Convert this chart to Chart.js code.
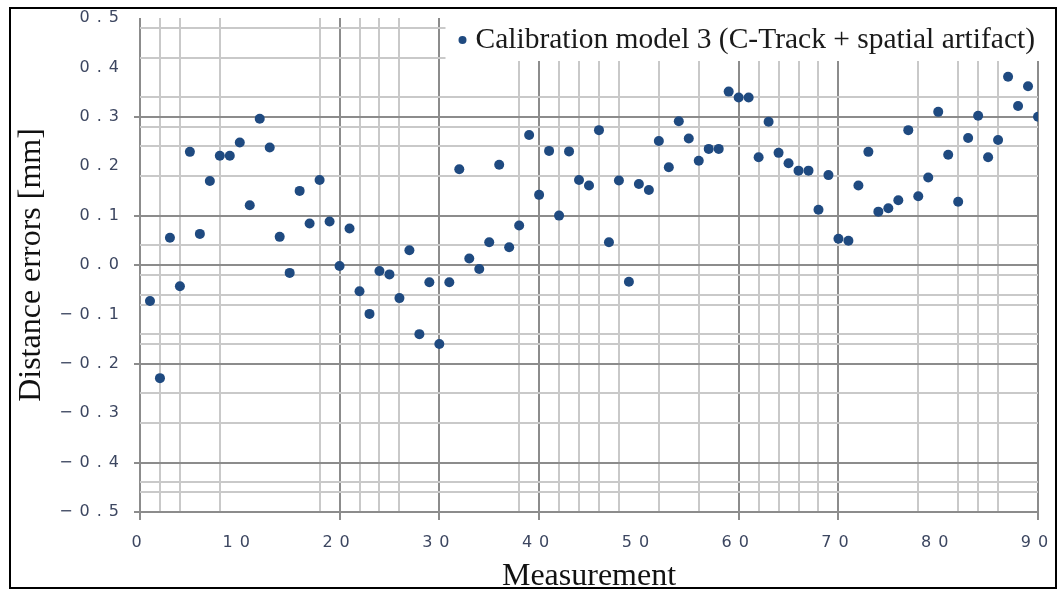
<!DOCTYPE html>
<html>
<head>
<meta charset="utf-8">
<script src="https://cdn.jsdelivr.net/npm/chart.js@4.4.1/dist/chart.umd.min.js"></script>
<style>
  html, body { margin: 0; padding: 0; background: #fff; overflow: hidden; }
  #wrap { width: 1057px; height: 589px; }
</style>
</head>
<body>
<div id="wrap"><canvas id="chart"></canvas></div>
<script>
// measurement number (x) and distance error in mm (y)
var measurements = [1, 2, 3, 4, 5, 6, 7, 8, 9, 10,
    11, 12, 13, 14, 15, 16, 17, 18, 19, 20,
    21, 22, 23, 24, 25, 26, 27, 28, 29, 30,
    31, 32, 33, 34, 35, 36, 37, 38, 39, 40,
    41, 42, 43, 44, 45, 46, 47, 48, 49, 50,
    51, 52, 53, 54, 55, 56, 57, 58, 59, 60,
    61, 62, 63, 64, 65, 66, 67, 68, 69, 70,
    71, 72, 73, 74, 75, 76, 77, 78, 79, 80,
    81, 82, 83, 84, 85, 86, 87, 88, 89, 90];
var distanceErrors = [-0.073, -0.229, 0.055, -0.043, 0.229, 0.063, 0.170, 0.221, 0.221, 0.248,
    0.121, 0.296, 0.238, 0.057, -0.016, 0.150, 0.084, 0.172, 0.088, -0.002,
    0.074, -0.053, -0.099, -0.012, -0.019, -0.067, 0.030, -0.140, -0.035, -0.160,
    -0.035, 0.194, 0.013, -0.008, 0.046, 0.203, 0.036, 0.080, 0.263, 0.142,
    0.231, 0.100, 0.230, 0.172, 0.161, 0.273, 0.046, 0.171, -0.034, 0.164,
    0.152, 0.251, 0.198, 0.291, 0.256, 0.211, 0.235, 0.235, 0.351, 0.339,
    0.339, 0.218, 0.290, 0.227, 0.206, 0.191, 0.191, 0.112, 0.182, 0.053,
    0.049, 0.161, 0.229, 0.108, 0.115, 0.131, 0.273, 0.139, 0.177, 0.310,
    0.223, 0.128, 0.257, 0.302, 0.218, 0.253, 0.381, 0.322, 0.362, 0.300];
var seriesLabel = 'Calibration model 3 (C-Track + spatial artifact)';

// ticks: labelled ones, ones with a visible grid line, darker ones (with tick mark)
var xLabelTicks = [0, 10, 20, 30, 40, 50, 60, 70, 80, 90];
var xGridTicks = [0, 2, 4, 8, 18, 20, 22, 24, 26, 30, 38, 40, 42, 44, 46, 48, 52, 56,
    60, 62, 64, 66, 68, 70, 78, 82, 84, 86, 90];
var xMajorTicks = [0, 20, 30, 40, 60, 70, 90];
var yLabelTicks = [-0.5, -0.4, -0.3, -0.2, -0.1, 0, 0.1, 0.2, 0.3, 0.4, 0.5];
var yGridTicks = [0.48, 0.42, 0.34, 0.30, 0.28, 0.24, 0.18, 0.10, 0.04, 0, -0.02, -0.06,
    -0.08, -0.14, -0.16, -0.20, -0.26, -0.32, -0.40, -0.44, -0.46, -0.50];
var yMajorTicks = [0.3, 0.1, 0, -0.2, -0.4, -0.5];

function has(list, v) {
    return list.some(function (a) { return Math.abs(a - v) < 1e-6; });
}
function mergeTicks(a, b) {
    var all = [];
    a.concat(b).forEach(function (v) { if (!has(all, v)) all.push(v); });
    all.sort(function (p, q) { return p - q; });
    return all.map(function (v) { return { value: v }; });
}
function gridColor(grid, major) {
    return function (ctx) {
        if (!ctx.tick || !has(grid, ctx.tick.value)) return 'rgba(0,0,0,0)';
        return has(major, ctx.tick.value) ? '#8c8c8c' : '#c9c9c9';
    };
}
function tickColor(major) {
    return function (ctx) {
        return ctx.tick && has(major, ctx.tick.value) ? '#8c8c8c' : 'rgba(0,0,0,0)';
    };
}
function fmtY(v) {
    if (Math.abs(v) < 1e-9) return '0.0';
    return v.toFixed(1).replace('-', '\u2212');
}

// wide-spaced tick labels like the original
var spacedTicks = {
    id: 'spacedTicks',
    beforeDraw: function (chart) {
        Object.values(chart.scales).forEach(function (s) {
            if (s._spaced) return;
            var orig = s.drawLabels;
            s.drawLabels = function (area) {
                var c = this.ctx;
                c.save();
                c.letterSpacing = '7px';
                orig.call(this, area);
                c.restore();
                c.letterSpacing = '0px';
            };
            s._spaced = true;
        });
    }
};

// legend sitting on a white box inside the plot, top right
var boxLegend = {
    id: 'boxLegend',
    afterDatasetsDraw: function (chart) {
        var ctx = chart.ctx, a = chart.chartArea, ds = chart.data.datasets[0];
        ctx.save();
        ctx.font = '29.5px "Liberation Serif"';
        var w = ctx.measureText(ds.label).width;
        var textX = a.right - 3 - w;
        var midY = a.top + 22;
        ctx.fillStyle = '#fff';
        ctx.fillRect(textX - 30, a.top - 2, w + 40, 45);
        ctx.fillStyle = ds.backgroundColor;
        ctx.beginPath();
        ctx.arc(textX - 13, midY, 4, 0, Math.PI * 2);
        ctx.fill();
        ctx.fillStyle = '#1a1a1a';
        ctx.textBaseline = 'middle';
        ctx.fillText(ds.label, textX, midY);
        ctx.restore();
    }
};

var frame = {
    id: 'frame',
    afterDraw: function (chart) {
        var ctx = chart.ctx;
        ctx.save();
        ctx.strokeStyle = '#000';
        ctx.lineWidth = 2;
        ctx.strokeRect(10, 8, 1046, 580);
        ctx.restore();
    }
};

var points = measurements.map(function (m, i) { return { x: m, y: distanceErrors[i] }; });

var chart = new Chart(document.getElementById('chart'), {
    type: 'scatter',
    data: {
        datasets: [
            {
                label: seriesLabel,
                data: points,
                backgroundColor: '#1f4a80',
                borderColor: '#1f4a80',
                pointRadius: 5,
                pointBorderWidth: 0,
            }
        ]
    },
    options: {
        responsive: true,
        maintainAspectRatio: false,
        animation: false,
        layout: {
            autoPadding: false,
            padding: { top: 18, right: 19, left: 16, bottom: -4 }
        },
        scales: {
            x: {
                type: 'linear',
                min: 0,
                max: 90,
                afterBuildTicks: function (s) { s.ticks = mergeTicks(xLabelTicks, xGridTicks); },
                afterFit: function (s) { s.height = 81; },
                border: { display: false },
                grid: {
                    color: gridColor(xGridTicks, xMajorTicks),
                    tickColor: tickColor(xMajorTicks),
                    lineWidth: 2,
                    tickLength: 8,
                },
                ticks: {
                    autoSkip: false,
                    maxRotation: 0,
                    padding: 8,
                    color: '#3c4660',
                    font: { family: 'DejaVu Sans', size: 16, lineHeight: 1.9 },
                    callback: function (v) { return has(xLabelTicks, v) ? String(v) : ''; }
                },
                title: {
                    display: true,
                    text: 'Measurement',
                    color: '#111',
                    padding: 0,
                    font: { family: 'Liberation Serif', size: 32, lineHeight: 1 }
                }
            },
            y: {
                type: 'linear',
                min: -0.5,
                max: 0.5,
                afterBuildTicks: function (s) { s.ticks = mergeTicks(yLabelTicks, yGridTicks); },
                afterFit: function (s) { s.width = 124; },
                border: { display: false },
                grid: {
                    color: gridColor(yGridTicks, yMajorTicks),
                    tickColor: tickColor(yMajorTicks),
                    lineWidth: 2,
                    tickLength: 6,
                },
                ticks: {
                    autoSkip: false,
                    padding: 8,
                    color: '#3c4660',
                    font: { family: 'DejaVu Sans', size: 16 },
                    callback: function (v) { return has(yLabelTicks, v) ? fmtY(v) : ''; }
                },
                title: {
                    display: true,
                    text: 'Distance errors [mm]',
                    color: '#111',
                    padding: 0,
                    font: { family: 'Liberation Serif', size: 32, lineHeight: 1 }
                }
            }
        },
        plugins: {
            legend: { display: false },
            tooltip: { enabled: false }
        }
    },
    plugins: [spacedTicks, boxLegend, frame]
});
</script>
</body>
</html>
